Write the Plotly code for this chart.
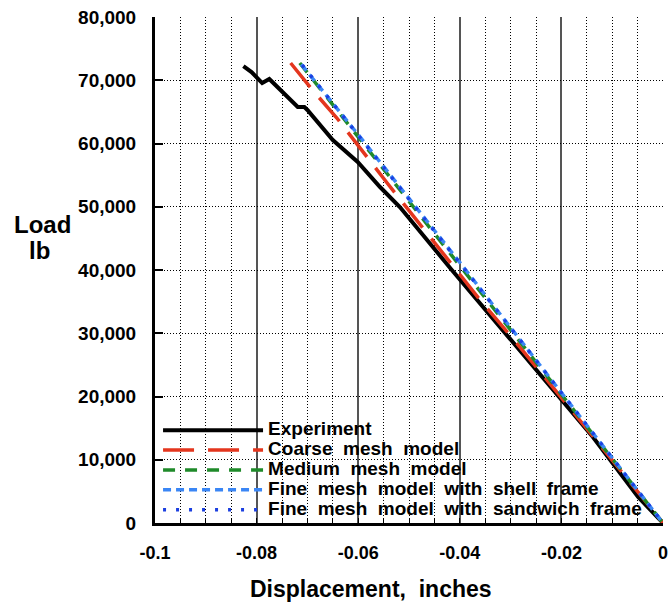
import plotly.graph_objects as go

# ---- data ----
exp_x = [-0.0826, -0.0810, -0.0789, -0.0775, -0.0769, -0.0745, -0.0719, -0.0706, -0.0700,
         -0.0650, -0.0601, -0.0557, -0.0518, -0.0419, -0.0399, -0.0300, -0.0267, -0.0198,
         -0.0138, -0.0049, 0.0]
exp_y = [72250, 71300, 69560, 70200, 69720, 67900, 65770, 65770, 65300,
         60550, 57070, 53120, 49960, 40320, 38420, 28900, 25770, 19130,
         13600, 4110, 0]

coarse_x = [-0.0733, -0.0690, -0.0642, -0.0571, -0.0543, -0.0360, -0.0285, -0.0150, 0.0]
coarse_y = [72730, 68460, 64030, 56600, 53750, 35260, 28140, 14900, 0]

medium_x = [-0.0715, -0.0600, -0.0400, -0.0200, 0.0]
medium_y = [72730, 61000, 40700, 20300, 0]

shell_x = [-0.0712, -0.0600, -0.0400, -0.0200, 0.0]
shell_y = [72500, 61400, 41200, 20700, 0]

sandwich_x = [-0.0710, -0.0600, -0.0400, -0.0200, 0.0]
sandwich_y = [72400, 61300, 41100, 20600, 0]

x_tickvals = [-0.1, -0.08, -0.06, -0.04, -0.02, 0]
x_ticktext = ["-0.1", "-0.08", "-0.06", "-0.04", "-0.02", "0"]

names = ["Experiment", "Coarse\u00a0 mesh\u00a0 model", "Medium\u00a0 mesh\u00a0 model",
         "Fine\u00a0 mesh\u00a0 model\u00a0 with\u00a0 shell\u00a0 frame",
         "Fine\u00a0 mesh\u00a0 model\u00a0 with\u00a0 sandwich\u00a0 frame"]

FONT = "Liberation Sans, Arial, Helvetica, sans-serif"

def lbl(t):
    return '<span style="font-size:19px">' + t + '</span>'

fig = go.Figure()
fig.add_trace(go.Scatter(x=exp_x, y=exp_y, mode="lines", name=lbl(names[0]),
                         line=dict(color="black", width=4)))
fig.add_trace(go.Scatter(x=coarse_x, y=coarse_y, mode="lines", name=lbl(names[1]),
                         line=dict(color="#e4361e", width=3.5, dash="31px,14px")))
fig.add_trace(go.Scatter(x=medium_x, y=medium_y, mode="lines", name=lbl(names[2]),
                         line=dict(color="#1f8a2a", width=3.5, dash="12px,10px")))
fig.add_trace(go.Scatter(x=shell_x, y=shell_y, mode="lines", name=lbl(names[3]),
                         line=dict(color="#3a86f5", width=3.5, dash="8px,5px")))
fig.add_trace(go.Scatter(x=sandwich_x, y=sandwich_y, mode="lines", name=lbl(names[4]),
                         line=dict(color="#1b3fe0", width=3.5, dash="3px,10px")))

fig.update_layout(
    width=670, height=606,
    margin=dict(l=155, r=7, t=17, b=83, autoexpand=False),
    plot_bgcolor="white", paper_bgcolor="white",
    font=dict(family=FONT, color="black"),
    showlegend=True,
    legend=dict(x=0.006, y=0.213, xanchor="left", yanchor="top",
                bgcolor="rgba(0,0,0,0)", borderwidth=0,
                font=dict(family=FONT, size=13, color="black", weight="bold"),
                itemwidth=100, tracegroupgap=0),
    xaxis=dict(range=[-0.1, 0], tickvals=x_tickvals, ticktext=x_ticktext,
               showline=True, linecolor="black", linewidth=2.5,
               ticks="inside", ticklen=5, tickcolor="black", tickwidth=1,
               ticklabelstandoff=12,
               tickfont=dict(family=FONT, size=18, weight="bold"),
               showgrid=True, gridcolor="#555555", gridwidth=1.5,
               zeroline=False,
               minor=dict(dtick=0.005, tick0=0, ticks="inside", ticklen=5, tickcolor="black",
                          showgrid=True, gridcolor="black", gridwidth=1, griddash="1px,2px")),
    yaxis=dict(range=[0, 80000], dtick=10000, tickformat=",d",
               showline=True, linecolor="black", linewidth=3,
               ticks="inside", ticklen=8, tickcolor="black", tickwidth=1.5,
               ticklabelstandoff=12,
               tickfont=dict(family=FONT, size=19, weight="bold"),
               showgrid=True, gridcolor="black", gridwidth=1, griddash="1px,2px",
               zeroline=False),
    annotations=[
        dict(text="Displacement,\u00a0 inches", xref="paper", yref="paper",
             x=0.425, y=-0.13, xanchor="center", yanchor="middle", showarrow=False,
             font=dict(family=FONT, size=23, weight="bold")),
        dict(text="Load", xref="paper", yref="paper",
             x=(42 - 155) / 508, y=(523 - 225) / 506, xanchor="center", yanchor="middle",
             showarrow=False, font=dict(family=FONT, size=24, weight="bold")),
        dict(text="lb", xref="paper", yref="paper",
             x=(39 - 155) / 508, y=(523 - 250) / 506, xanchor="center", yanchor="middle",
             showarrow=False, font=dict(family=FONT, size=24, weight="bold")),
    ],
)

fig.write_html("out.html")
